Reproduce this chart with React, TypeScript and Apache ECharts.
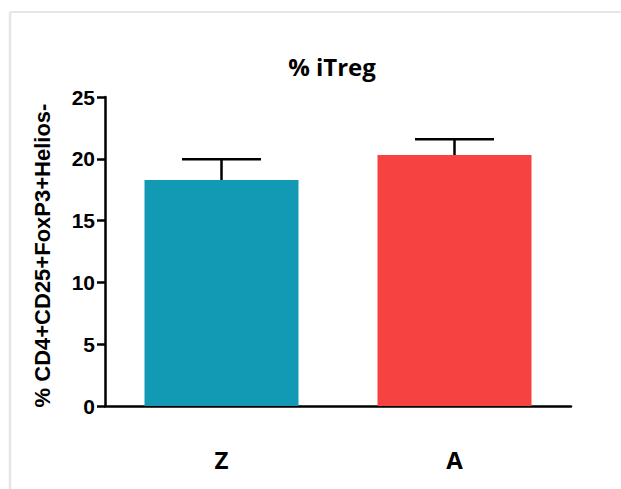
import React, { useEffect, useRef } from "react";
import * as echarts from "echarts";

// Groups, means and upper error (SEM) for % iTreg
const categories = ["Z", "A"];
const means = [18.28, 20.3];
const errors = [1.68, 1.28];
const barColors = ["#1299B4", "#F74242"];
const yTicks = { min: 0, max: 25, interval: 5 };

export default function App() {
  const ref = useRef<HTMLDivElement>(null);

  useEffect(() => {
    if (!ref.current) return;
    const chart = echarts.init(ref.current, null, { renderer: "svg" });

    const option: any = {
      animation: false,
      backgroundColor: "#ffffff",
      title: {
        text: "% iTreg",
        left: 327,
        top: 49,
        textAlign: "center",
        textStyle: {
          fontFamily: "Open Sans",
          fontWeight: "bold",
          fontSize: 24,
          color: "#000",
        },
      },
      graphic: [
        {
          type: "line",
          shape: { x1: 10, y1: 12, x2: 621, y2: 12 },
          style: { stroke: "#e6e6e6", lineWidth: 2 },
          silent: true,
        },
        {
          type: "line",
          shape: { x1: 10, y1: 12, x2: 10, y2: 489 },
          style: { stroke: "#e6e6e6", lineWidth: 2.5 },
          silent: true,
        },
      ],
      grid: { left: 105, right: 50, top: 97, bottom: 83 },
      xAxis: {
        type: "category",
        data: categories,
        axisLine: { lineStyle: { color: "#000", width: 2.5 } },
        axisTick: { alignWithLabel: true, length: 10, lineStyle: { color: "#000", width: 2.5 } },
        axisLabel: {
          margin: 41,
          fontFamily: "Open Sans",
          fontWeight: "bold",
          fontSize: 24,
          color: "#000",
        },
      },
      yAxis: {
        type: "value",
        min: yTicks.min,
        max: yTicks.max,
        interval: yTicks.interval,
        name: "% CD4+CD25+FoxP3+Helios-",
        nameLocation: "middle",
        nameRotate: 90,
        nameGap: 52,
        nameTextStyle: {
          fontFamily: "Liberation Sans",
          fontWeight: "bold",
          fontSize: 22,
          color: "#000",
          padding: [0, 8, 0, 0],
        },
        splitLine: { show: false },
        axisLine: { show: true, lineStyle: { color: "#000", width: 2.5 } },
        axisTick: { show: true, length: 8, lineStyle: { color: "#000", width: 2.5 } },
        axisLabel: {
          margin: 10,
          fontFamily: "Liberation Sans",
          fontWeight: "bold",
          fontSize: 21,
          color: "#000",
        },
      },
      series: [
        {
          type: "custom",
          z: 1,
          data: categories.map((_, i) => [i, means[i], errors[i]]),
          renderItem: (params: any, api: any) => {
            const i = api.value(0);
            const m = api.value(1);
            const e = api.value(2);
            const base = api.coord([i, m]);
            const top = api.coord([i, m + e]);
            const half = 39.5;
            const style = { stroke: "#000", lineWidth: 2.5 };
            return {
              type: "group",
              children: [
                { type: "line", shape: { x1: base[0], y1: base[1], x2: top[0], y2: top[1] }, style },
                { type: "line", shape: { x1: top[0] - half, y1: top[1], x2: top[0] + half, y2: top[1] }, style },
              ],
            };
          },
        },
        {
          type: "bar",
          z: 2,
          barWidth: 154,
          data: means.map((v, i) => ({ value: v, itemStyle: { color: barColors[i] } })),
        },
      ],
    };

    chart.setOption(option);
    return () => chart.dispose();
  }, []);

  return (
    <div
      ref={ref}
      style={{ position: "absolute", left: 0, top: 0, width: 621, height: 489 }}
    />
  );
}
